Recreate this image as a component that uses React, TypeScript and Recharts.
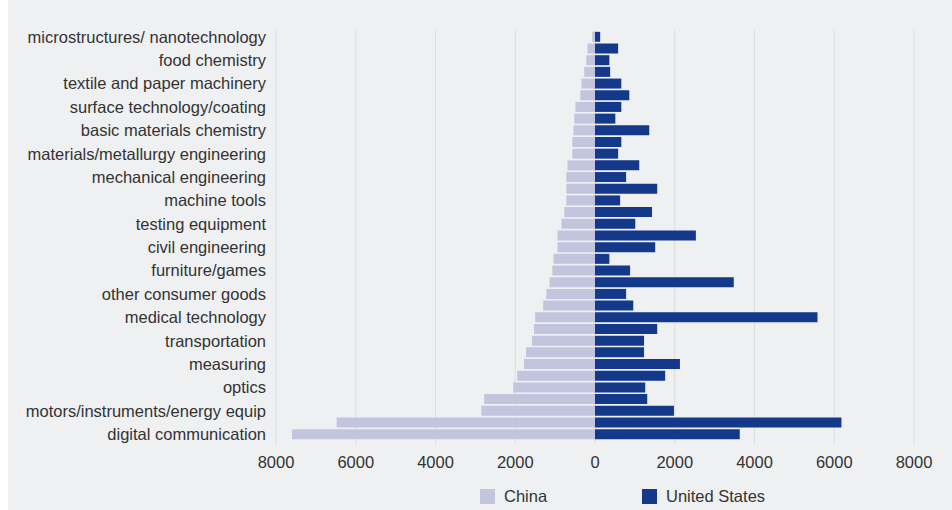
import { Bar, BarChart, CartesianGrid, Legend, XAxis, YAxis } from "recharts";

const C = {
  china: "#c3c5df",
  us: "#15398a",
  grid: "#dcdde1",
  text: "#333333",
  bg: "#eff0f2",
};
const FONT = '"Liberation Sans", Arial, Helvetica, sans-serif';
const FS = 16.5;

// technology fields, ordered by China's filings (only every other one is labelled)
const fields = [
  "microstructures/ nanotechnology",
  "environmental technology",
  "food chemistry",
  "thermal processes",
  "textile and paper machinery",
  "macromolecular chemistry",
  "surface technology/coating",
  "chemical engineering",
  "basic materials chemistry",
  "organic fine chemistry",
  "materials/metallurgy engineering",
  "engines/pumps/turbines",
  "mechanical engineering",
  "other special machines",
  "machine tools",
  "biotechnology",
  "testing equipment",
  "handling",
  "civil engineering",
  "pharmaceuticals",
  "furniture/games",
  "control",
  "other consumer goods",
  "analysis of biological materials",
  "medical technology",
  "IT methods for management",
  "transportation",
  "audio-visual technology",
  "measuring",
  "semiconductors",
  "optics",
  "basic communication processes",
  "motors/instruments/energy equip",
  "computer technology",
  "digital communication",
];

const china = [
  70, 190, 220, 270, 340, 370, 490, 520, 540, 570, 570, 690, 720, 720, 720, 770, 840, 940, 940, 1040, 1070, 1140,
  1220, 1300, 1500, 1530, 1580, 1730, 1780, 1950, 2050, 2780, 2850, 6480, 7600,
];

const us = [
  130, 580, 360, 380, 660, 860, 660, 510, 1360, 660, 580, 1110, 780, 1560, 630, 1430, 1010, 2530, 1510, 360, 880, 3480,
  780, 960, 5580, 1560, 1230, 1230, 2130, 1760, 1260, 1310, 1980, 6180, 3630,
];

const xTicks = [-8000, -6000, -4000, -2000, 0, 2000, 4000, 6000, 8000];

// china is drawn to the left of zero
const data = fields.map((name, i) => ({ name, china: -china[i], us: us[i] }));

const LEGEND_X = [472, 634];

function LegendRow({ payload }: any) {
  return (
    <div style={{ position: "relative", width: 944, height: 18, fontFamily: FONT }}>
      {(payload || []).map((p: any, i: number) => (
        <div
          key={p.value}
          style={{ position: "absolute", left: LEGEND_X[i], top: 0, height: 18, display: "flex", alignItems: "center", gap: 9 }}
        >
          <span style={{ width: 15, height: 15, background: p.color, display: "inline-block" }} />
          <span style={{ fontSize: FS, color: C.text, lineHeight: "18px" }}>{p.value}</span>
        </div>
      ))}
    </div>
  );
}

export default function App() {
  return (
    <div style={{ position: "absolute", left: 8, top: 0, width: 944, height: 510, background: C.bg }}>
      <BarChart
        width={944}
        height={510}
        data={data}
        layout="vertical"
        stackOffset="sign"
        barCategoryGap="7%"
        margin={{ top: 30, right: 38, bottom: 36, left: 0 }}
        style={{ fontFamily: FONT }}
      >
        <CartesianGrid stroke={C.grid} horizontal={false} />
        <XAxis
          type="number"
          domain={[-8000, 8000]}
          ticks={xTicks}
          tickFormatter={(v) => String(Math.abs(v))}
          axisLine={false}
          tickLine={false}
          tickSize={6}
          tickMargin={6}
          tick={{ fill: C.text, fontSize: FS }}
        />
        <YAxis
          type="category"
          dataKey="name"
          width={268}
          interval={1}
          axisLine={false}
          tickLine={false}
          tickMargin={4}
          padding={{ top: 1, bottom: 4 }}
          tick={{ fill: C.text, fontSize: FS }}
        />
        <Legend
          layout="horizontal"
          verticalAlign="middle"
          align="center"
          content={<LegendRow />}
          wrapperStyle={{ top: 487, left: 0, width: 944 }}
        />
        <Bar dataKey="china" name="China" stackId="a" fill={C.china} isAnimationActive={false} />
        <Bar dataKey="us" name="United States" stackId="a" fill={C.us} isAnimationActive={false} />
      </BarChart>
    </div>
  );
}
